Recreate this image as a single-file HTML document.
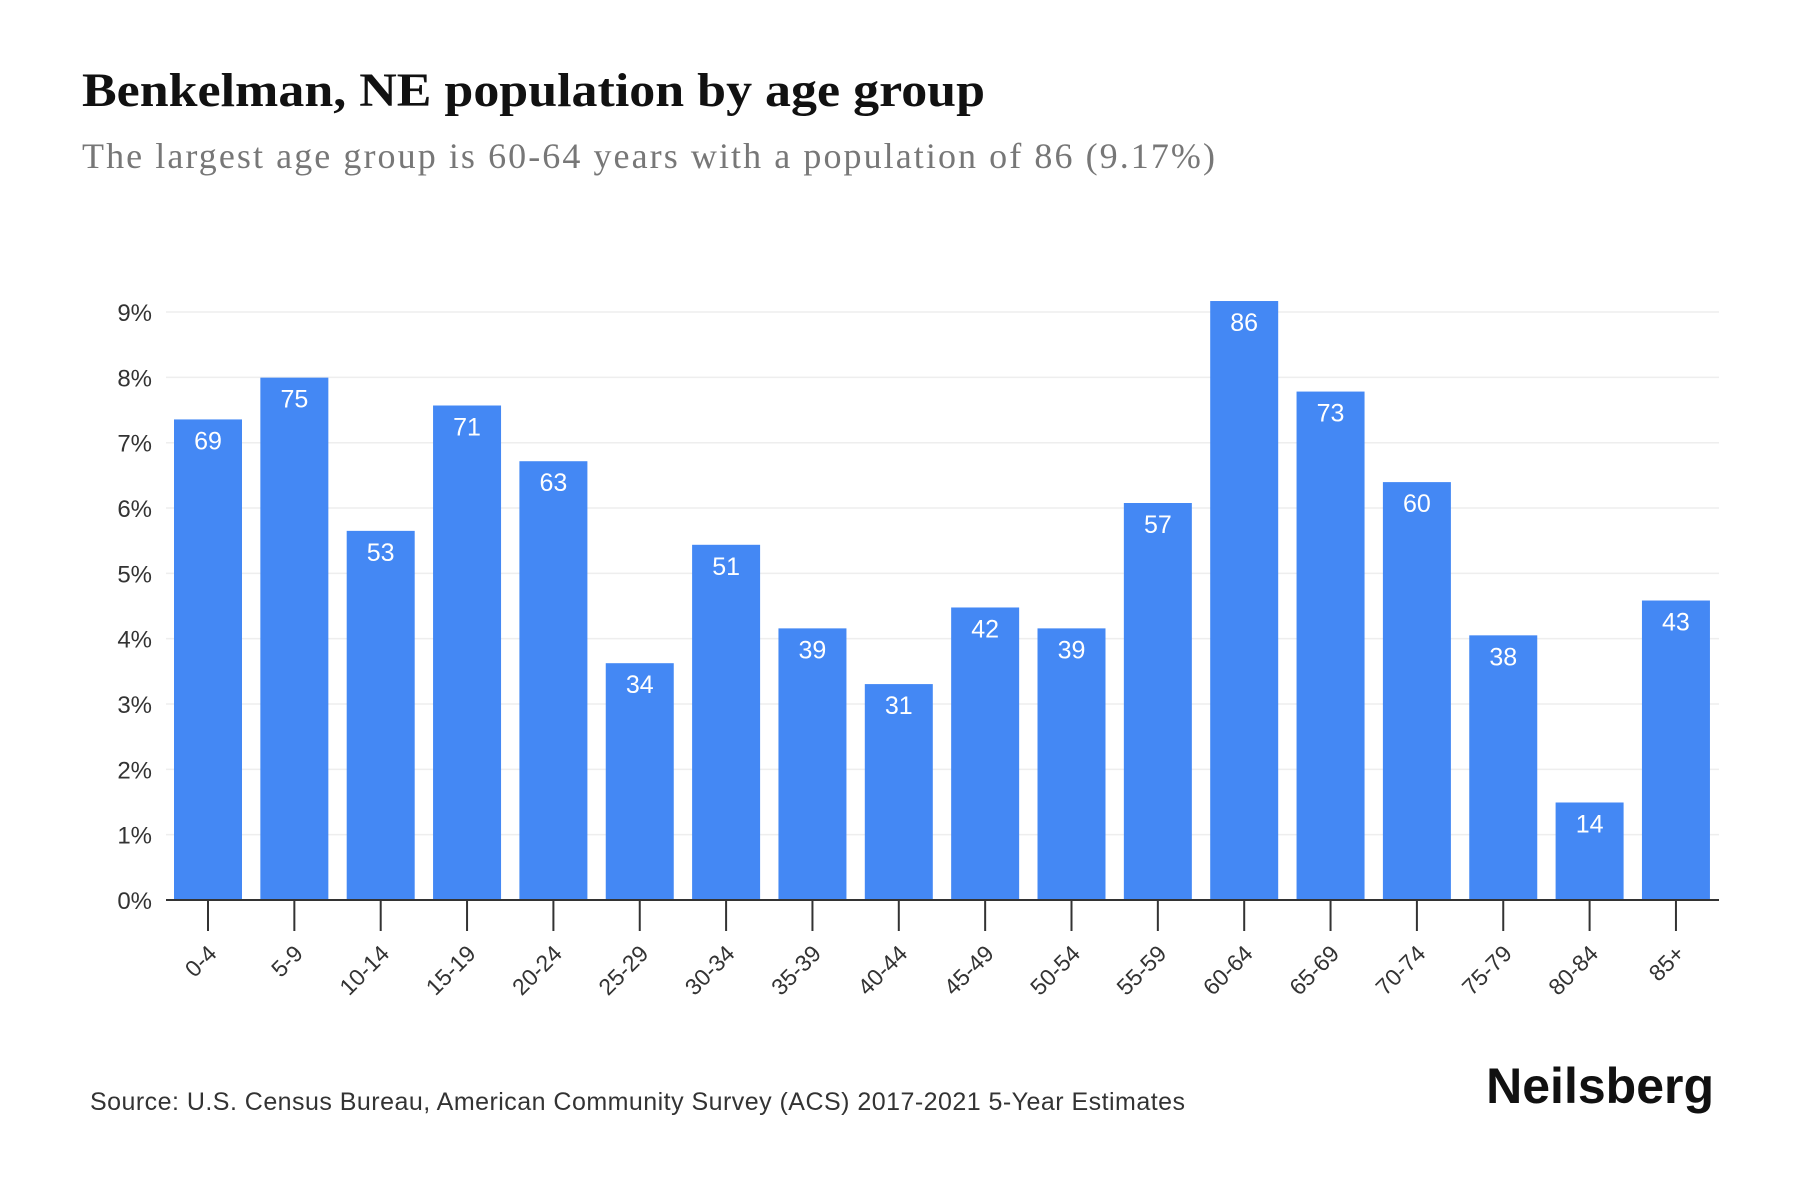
<!DOCTYPE html>
<html><head><meta charset="utf-8"><style>
body{margin:0;background:#fff;}
svg{display:block;}
</style></head><body>
<svg id="chart" width="1800" height="1200" xmlns="http://www.w3.org/2000/svg">
<text x="82" y="106" textLength="903" lengthAdjust="spacingAndGlyphs" font-family="Liberation Serif, serif" font-weight="bold" font-size="48" fill="#111">Benkelman, NE population by age group</text>
<text x="82" y="168" textLength="1133" lengthAdjust="spacing" font-family="Liberation Serif, serif" font-size="36" fill="#777">The largest age group is 60-64 years with a population of 86 (9.17%)</text>
<g id="grid"></g><g id="bars"></g><g id="axis"></g>
<text x="90" y="1110" textLength="1095" lengthAdjust="spacing" font-family="Liberation Sans, sans-serif" font-size="25" fill="#333">Source: U.S. Census Bureau, American Community Survey (ACS) 2017-2021 5-Year Estimates</text>
<text x="1714" y="1103" text-anchor="end" font-family="Liberation Sans, sans-serif" font-weight="bold" font-size="50" fill="#111">Neilsberg</text>
</svg>
<script>
const categories=["0-4","5-9","10-14","15-19","20-24","25-29","30-34","35-39","40-44","45-49","50-54","55-59","60-64","65-69","70-74","75-79","80-84","85+"];
const counts=[69,75,53,71,63,34,51,39,31,42,39,57,86,73,60,38,14,43];
const yTicks=[0,1,2,3,4,5,6,7,8,9];
const total=938;
const NS="http://www.w3.org/2000/svg";
const y0=900, perPct=65.33, x0=208, step=86.35, bw=68, xl=166, xr=1719;
const ys=p=>y0-p*perPct, xs=i=>x0+i*step;
function mk(tag,attrs,parent,txt){const e=document.createElementNS(NS,tag);for(const k in attrs)e.setAttribute(k,attrs[k]);if(txt!==undefined)e.textContent=txt;parent.appendChild(e);return e;}
const grid=document.getElementById('grid'),bars=document.getElementById('bars'),axis=document.getElementById('axis');
yTicks.forEach(t=>{
  if(t>0){const l=mk('line',{x1:xl,x2:xr,y1:ys(t),y2:ys(t),stroke:'#eee','stroke-width':1.5},grid);
  
  }
  const tx=mk('text',{x:152,y:ys(t)+9,'text-anchor':'end','font-family':'Liberation Sans, sans-serif','font-size':24,fill:'#333'},grid,t+'%');
  
  
});
categories.forEach((c,i)=>{
  const p=counts[i]/total*100, cx=xs(i), top=ys(p);
  const r=mk('rect',{x:cx-bw/2,y:top,width:bw,height:y0-top,fill:'#4488f4'},bars);
  
  
  const v=mk('text',{x:cx,y:top+30,'text-anchor':'middle','font-family':'Liberation Sans, sans-serif','font-size':25,fill:'#fff'},bars,counts[i]);
  
  
  const tk=mk('line',{x1:cx,x2:cx,y1:y0,y2:931,stroke:'#333','stroke-width':2},axis);
  
  
  const lb=mk('text',{x:cx+10,y:955,'text-anchor':'end','font-family':'Liberation Sans, sans-serif','font-size':23,fill:'#333',transform:`rotate(-45 ${cx+10} 955)`},axis,c);
  
  
});
const ax=mk('line',{x1:xl,x2:xr,y1:y0,y2:y0,stroke:'#333','stroke-width':2},axis);


</script>
</body></html>
